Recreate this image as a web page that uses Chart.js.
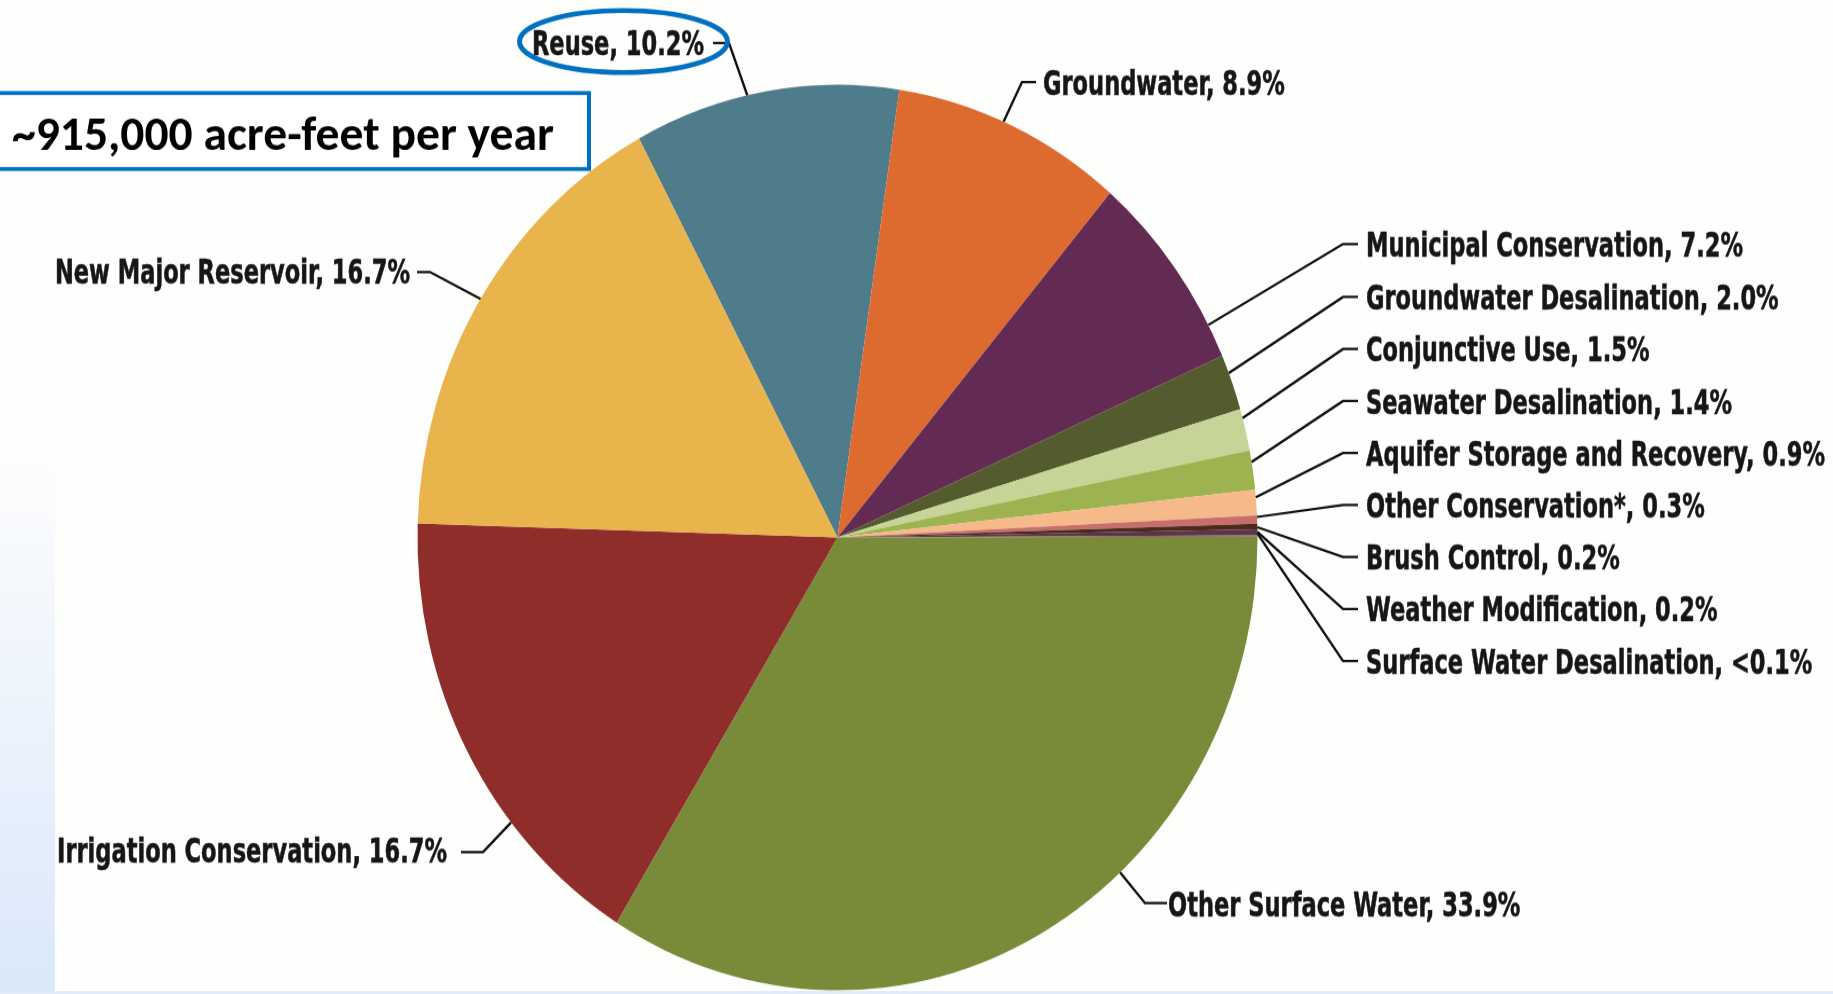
<!DOCTYPE html>
<html>
<head>
<meta charset="utf-8">
<script src="https://cdn.jsdelivr.net/npm/chart.js@4.4.1/dist/chart.umd.min.js"></script>
<style>
  html, body { margin:0; padding:0; width:1833px; height:994px; overflow:hidden; background:#fefefd; }
  #strip { position:absolute; left:0; top:440px; width:55px; height:554px;
           background:linear-gradient(to bottom, rgba(221,234,251,0) 0%, #dae8fb 100%); }
  #bottomline { position:absolute; left:0; right:0; bottom:0; height:3px; background:#e2ecf8; }
  #wrap { position:absolute; left:0; top:0; width:1833px; height:922px;
          transform-origin:0 0; transform:scaleY(1.078091); }
</style>
</head>
<body>
<div id="strip"></div>
<div id="bottomline"></div>
<div id="wrap"><canvas id="c"></canvas></div>
<script>
// ---------------- DATA ----------------
const categories = [
  "Reuse", "Groundwater", "Municipal Conservation", "Groundwater Desalination",
  "Conjunctive Use", "Seawater Desalination", "Aquifer Storage and Recovery",
  "Other Conservation*", "Brush Control", "Weather Modification",
  "Surface Water Desalination", "Other Surface Water", "Irrigation Conservation",
  "New Major Reservoir"
];
const shares = [10.2, 8.9, 7.2, 2.0, 1.5, 1.4, 0.9, 0.3, 0.2, 0.2, 0.05, 33.9, 16.7, 16.7];
const shareLabels = ["10.2%", "8.9%", "7.2%", "2.0%", "1.5%", "1.4%", "0.9%", "0.3%", "0.2%", "0.2%", "<0.1%", "33.9%", "16.7%", "16.7%"];
const totalText = "~915,000 acre-feet per year";

// ---------------- STYLE / LAYOUT ----------------
const sliceColors = [
  "#4f7c8a", "#dd6b2f", "#632a53", "#545b2e", "#c6d597", "#9db350", "#f6b98a",
  "#c96f6b", "#4a2a1b", "#5b3547", "#8a5a6a", "#798b39", "#8f2d2b", "#e9b44c"
];
const K = 994 / 922;            // vertical stretch (pie is slightly elliptical)
const LABEL_FONT = "bold 34.5px 'Liberation Sans Narrow', 'DejaVu Sans Condensed', 'Roboto', sans-serif";
const rightYs = [244, 297, 349, 401, 453, 505, 557, 609, 661];
const labelLayout = {
  "Reuse":                        { x:704,  y:55,  align:"right", path:[[713,43],[729,43]],   angle:-12.4 },
  "Groundwater":                  { x:1043, y:95,  align:"left",  path:[[1036,82],[1022,82]], angle:23.3 },
  "Other Surface Water":          { x:1168, y:916, align:"left",  path:[[1167,903],[1145,903]], angle:137.7 },
  "Irrigation Conservation":      { x:447,  y:863, align:"right", path:[[461,852],[483,852]], angle:231 },
  "New Major Reservoir":          { x:410,  y:283, align:"right", path:[[417,272],[430,272]], angle:301.8 }
};
const rightCats = ["Municipal Conservation","Groundwater Desalination","Conjunctive Use","Seawater Desalination",
  "Aquifer Storage and Recovery","Other Conservation*","Brush Control","Weather Modification","Surface Water Desalination"];
const rightAngles = [62, 68.7, 74.7, 80.4, 84.9, 87.4, 88.7, 89.3, 89.5];
rightCats.forEach((c, i) => {
  const yc = rightYs[i];
  labelLayout[c] = { x:1366, y:yc + 12.5, align:"left", path:[[1358,yc],[1343,yc]], angle:rightAngles[i] };
});

// ---------------- PLUGIN: callouts, title box ----------------
const calloutPlugin = {
  id: "callouts",
  afterDraw(chart) {
    const ctx = chart.ctx;
    const arc0 = chart.getDatasetMeta(0).data[0];
    const cx = arc0.x, cy = arc0.y, r = arc0.outerRadius;
    ctx.save();
    ctx.scale(1, 1 / K);   // draw in page coordinates

    // labels + leader lines
    ctx.font = LABEL_FONT;
    const sx = 377 / ctx.measureText("Municipal Conservation, 7.2%").width;
    ctx.lineWidth = 2.4;
    ctx.strokeStyle = "#111111";
    ctx.lineJoin = "miter";
    categories.forEach((cat, i) => {
      const L = labelLayout[cat];
      const th = L.angle * Math.PI / 180;
      const ax = cx + r * Math.sin(th);
      const ay = (cy - r * Math.cos(th)) * K;
      ctx.beginPath();
      ctx.moveTo(L.path[0][0], L.path[0][1]);
      ctx.lineTo(L.path[1][0], L.path[1][1]);
      ctx.lineTo(ax, ay);
      ctx.lineWidth = 2.4;
      ctx.strokeStyle = "#111111";
      ctx.stroke();
      ctx.save();
      ctx.translate(L.x, L.y);
      ctx.scale(sx, 1);
      ctx.textAlign = L.align;
      ctx.textBaseline = "alphabetic";
      ctx.fillStyle = "#161616";
      ctx.strokeStyle = "#161616";
      ctx.lineWidth = 0.6;
      ctx.fillText(cat + ", " + shareLabels[i], 0, 0);
      ctx.strokeText(cat + ", " + shareLabels[i], 0, 0);
      ctx.restore();
    });

    // blue ellipse around "Reuse"
    ctx.beginPath();
    ctx.ellipse(623.5, 41.5, 104, 31, 0, 0, Math.PI * 2);
    ctx.lineWidth = 5;
    ctx.strokeStyle = "#0070c0";
    ctx.stroke();

    // title box
    ctx.fillStyle = "#ffffff";
    ctx.fillRect(-10, 93, 599, 76);
    ctx.lineWidth = 4;
    ctx.strokeStyle = "#0070c0";
    ctx.strokeRect(-10, 93, 599, 76);
    let fs = 42;
    ctx.font = "bold " + fs + "px 'Carlito', 'Lato', 'Open Sans', sans-serif";
    fs = fs * 542 / ctx.measureText(totalText).width;
    ctx.font = "bold " + fs.toFixed(2) + "px 'Carlito', 'Lato', 'Open Sans', sans-serif";
    ctx.fillStyle = "#000000";
    ctx.textAlign = "left";
    ctx.textBaseline = "alphabetic";
    ctx.fillText(totalText, 12, 150);

    ctx.restore();
  }
};

// ---------------- CHART ----------------
const cyCanvas = 537.5 / K;
new Chart(document.getElementById("c"), {
  type: "pie",
  data: {
    labels: categories,
    datasets: [{
      data: shares,
      backgroundColor: sliceColors,
      borderWidth: 0,
      hoverOffset: 0,
      radius: 420
    }]
  },
  options: {
    responsive: true,
    maintainAspectRatio: false,
    animation: false,
    events: [],
    rotation: -28.2,
    layout: { padding: { left: 417.5, right: 575.5, top: cyCanvas - 420, bottom: 922 - (cyCanvas + 420) } },
    plugins: { legend: { display: false }, tooltip: { enabled: false } }
  },
  plugins: [calloutPlugin]
});
</script>
</body>
</html>
